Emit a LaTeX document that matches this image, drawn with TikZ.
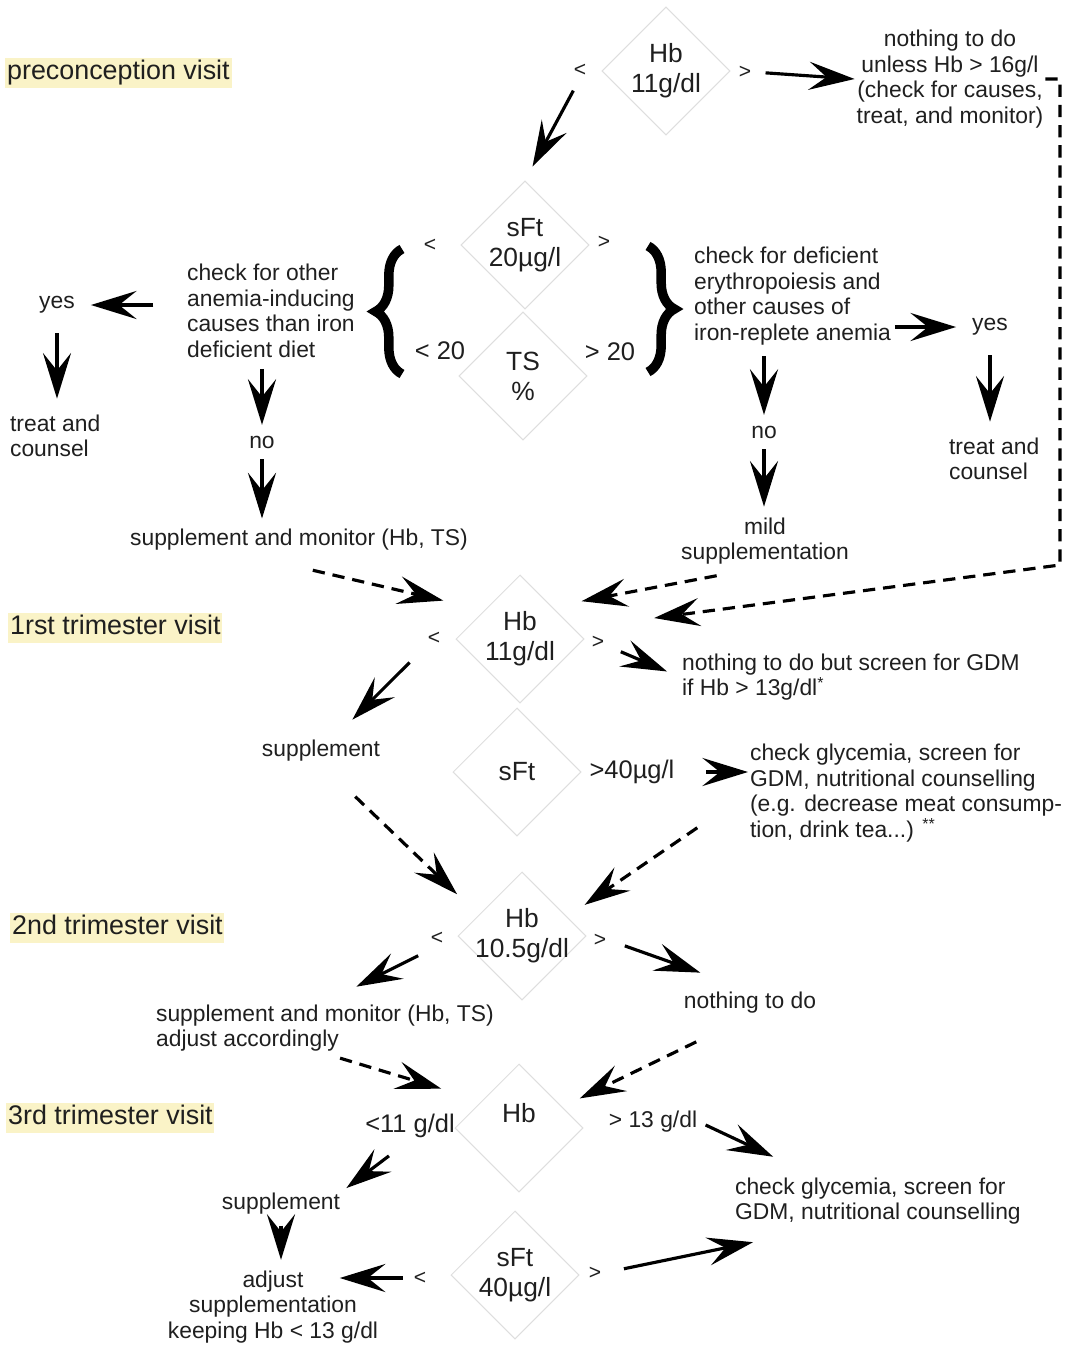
\documentclass[tikz,border=0pt]{standalone}
\usepackage{fontspec}
\setmainfont{Liberation Sans}
\usetikzlibrary{arrows.meta,shapes.geometric,decorations.pathreplacing}
\definecolor{visitbg}{RGB}{250,243,199}
\definecolor{boxline}{RGB}{222,222,222}

\begin{document}
\begin{tikzpicture}[x=0.02cm,y=-0.02cm,
        every node/.style={text=black!88},
        txt/.style={font=\fontsize{13}{14.6}\selectfont,inner sep=1pt},
        lft/.style={txt,align=left,anchor=west},
        ctr/.style={txt,align=center},
        visit/.style={font=\fontsize{15.3}{17}\selectfont,fill=visitbg,anchor=west,
            text height=11pt,text depth=3.5pt,inner xsep=1pt,inner ysep=1.3pt},
        test/.style={diamond,aspect=1,draw=boxline,line width=0.6pt,minimum size=2.56cm,
            inner sep=-6pt,align=center,font=\fontsize{15}{17}\selectfont},
        cmp/.style={font=\fontsize{12}{14}\selectfont,inner sep=1pt},
        cmpbig/.style={font=\fontsize{14.5}{16}\selectfont,inner sep=1pt},
        arr/.style={line width=1.8pt,-{Stealth[length=26pt,width=16pt,inset=10pt]}},
        darr/.style={arr,dash pattern=on 7pt off 4.5pt},
        curly/.style={decorate,decoration={brace,amplitude=15pt,aspect=0.5},line width=5.4pt}]
    \useasboundingbox (0,0) rectangle (1069,1346);

    % visits
    \node[visit] (hPre) at (5,73) {preconception visit};
    \node[visit] (hFirst) at (8,628) {1rst trimester visit};
    \node[visit] (hSecond) at (10,928) {2nd trimester visit};
    \node[visit] (hThird) at (6,1118) {3rd trimester visit};

    % tests
    \node[test] (dPre) at (666,71) {Hb\\11g/dl};
    \node[test] (dSft) at (525,245) {sFt\\20µg/l};
    \node[test] (dTs) at (523,376) {TS\\\%};
    \node[test] (dFirst) at (520,639) {Hb\\11g/dl};
    \node[test] (dSftF) at (517,772) {sFt};
    \node[test] (dSecond) at (522,936) {Hb\\10.5g/dl};
    \node[test] (dThird) at (519,1128) {Hb\\\phantom{Hb}};
    \node[test] (dSftT) at (515,1275) {sFt\\40µg/l};

    % thresholds
    \node[cmp] (ltPre) at (580,70) {<};
    \node[cmp] (gtPre) at (745,72) {>};
    \node[cmp] (ltSft) at (430,245) {<};
    \node[cmp] (gtSft) at (604,242) {>};
    \node[cmpbig] (ltTs) at (440,351) {< 20};
    \node[cmpbig] (gtTs) at (610,352) {> 20};
    \node[cmp] (ltFirst) at (434,638) {<};
    \node[cmp] (gtFirst) at (598,642) {>};
    \node[cmpbig] (gtSftF) at (632,772) {>40µg/l};
    \node[cmp] (ltSecond) at (437,938) {<};
    \node[cmp] (gtSecond) at (600,940) {>};
    \node[cmpbig] (ltThird) at (410,1126) {<11 g/dl};
    \node[txt] (gtThird) at (653,1122) {> 13 g/dl};
    \node[cmp] (ltSftT) at (420,1278) {<};
    \node[cmp] (gtSftT) at (595,1273) {>};

    % preconception
    \node[ctr] (nothingPre) at (950,79) {nothing to do\\unless Hb > 16g/l\\(check for causes,\\treat, and monitor)};
    \node[lft] (chkL) at (185,311) {check for other\\anemia-inducing\\causes than iron\\deficient diet};
    \node[txt] (yesL) at (57,305) {yes};
    \node[lft] (treatL) at (8,436) {treat and\\counsel};
    \node[txt] (noL) at (262,442) {no};
    \node[txt] (suppPre) at (299,540) {supplement and monitor (Hb, TS)};
    \node[lft] (chkR) at (692,296) {check for deficient\\erythropoiesis and\\other causes of\\iron-replete anemia};
    \node[txt] (yesR) at (990,327) {yes};
    \node[lft] (treatR) at (947,459) {treat and\\counsel};
    \node[txt] (noR) at (764,432) {no};
    \node[ctr] (mildR) at (765,541) {mild\\supplementation};
    \coordinate (bendR) at (1060,565);
    \coordinate (braceLtop) at (402,249);
    \coordinate (braceLbot) at (402,374);
    \coordinate (braceRtop) at (648,246);
    \coordinate (braceRbot) at (648,372);

    % 1st trimester
    \node[lft] (gdmFirst) at (680,677) {nothing to do but screen for GDM\\if Hb > 13g/dl\textsuperscript{*}};
    \node[txt] (suppFirst) at (321,751) {supplement};
    \node[lft] (glyFirst) at (748,793) {check glycemia, screen for\\GDM, nutritional counselling\\(e.g. decrease meat consump-\\tion, drink tea...) \textsuperscript{**}};

    % 2nd trimester
    \node[lft] (suppSecond) at (154,1028) {supplement and monitor (Hb, TS)\\adjust accordingly};
    \node[txt] (nothSecond) at (750,1003) {nothing to do};

    % 3rd trimester
    \node[txt] (suppThird) at (281,1204) {supplement};
    \node[ctr] (adjThird) at (273,1307) {adjust\\supplementation\\keeping Hb < 13 g/dl};
    \node[lft] (glyThird) at (733,1201) {check glycemia, screen for\\GDM, nutritional counselling};

    % braces
    \draw[curly] (braceLbot) -- (braceLtop);
    \draw[curly] (braceRtop) -- (braceRbot);

    % arrows, preconception
    \draw[arr,shorten <=7pt] (gtPre.east) -- (nothingPre.west);
    \draw[arr,shorten <=8pt,shorten >=9pt] (ltPre.south) -- (dSft.north);
    \draw[arr,shorten <=18pt,shorten >=8pt] (chkL.west |- yesL) -- (yesL.east);
    \draw[arr,shorten <=10pt,shorten >=8pt] (yesL.south) -- (yesL.south |- treatL.north);
    \draw[arr,shorten <=5pt,shorten >=5pt] (noL |- chkL.south) -- (noL.north);
    \draw[arr,shorten <=5pt,shorten >=5pt] (noL.south) -- (noL |- suppPre.north);
    \draw[arr,shorten <=1pt,shorten >=8pt] (chkR.east |- yesR) -- (yesR.west);
    \draw[arr,shorten <=10pt,shorten >=8pt] (yesR.south) -- (yesR.south |- treatR.north);
    \draw[arr,shorten <=5pt,shorten >=5pt] (noR |- chkR.south) -- (noR.north);
    \draw[arr,shorten <=5pt,shorten >=5pt] (noR.south) -- (noR |- mildR.north);
    \draw[darr,shorten >=46pt] (nothingPre.east) -| (bendR) -- (dFirst.11);
    \draw[darr,shorten <=28pt,shorten >=17pt] (mildR.south) -- (dFirst.north east);
    \draw[darr,shorten <=44pt,shorten >=24pt] ([xshift=-35pt]suppPre.south) -- (dFirst.141);

    % arrows, 1st trimester
    \draw[arr,shorten <=13pt,shorten >=15pt] (ltFirst) -- (suppFirst);
    \draw[arr,shorten <=9pt,shorten >=8pt] (gtFirst) -- (gdmFirst.west);
    \draw[arr,shorten <=17pt] (gtSftF.east) -- (gtSftF.east -| glyFirst.west);
    \draw[darr,shorten <=27pt,shorten >=17pt] (suppFirst.south) -- (dSecond.154);
    \draw[darr,shorten <=35pt,shorten >=12pt] (glyFirst.west) -- (dSecond.23);

    % arrows, 2nd trimester
    \draw[arr,shorten <=12pt,shorten >=20pt] (ltSecond.south) -- (suppSecond.north);
    \draw[arr,shorten <=10pt,shorten >=30pt] (gtSecond.east) -- (nothSecond.north);
    \draw[darr,shorten <=9pt,shorten >=24pt] (suppSecond.south) -- (dThird.144);
    \draw[darr,shorten <=34pt,shorten >=11pt] (nothSecond.south) -- (dThird.26);

    % arrows, 3rd trimester
    \draw[arr,shorten <=15pt,shorten >=3pt] (ltThird.south) -- (suppThird.north east);
    \draw[arr,shorten <=5pt,shorten >=5pt] (suppThird.south) -- (suppThird.south |- adjThird.north);
    \draw[arr,shorten <=5pt,shorten >=38pt] (ltSftT.west) -- (ltSftT.west -| adjThird.center);
    \draw[arr,shorten <=4pt,shorten >=25pt] (gtThird.east) -- ([xshift=-37pt]glyThird.north);
    \draw[arr,shorten <=12pt,shorten >=44pt] (gtSftT.east) -- ([xshift=-28pt]glyThird.south);
\end{tikzpicture}
\end{document}
